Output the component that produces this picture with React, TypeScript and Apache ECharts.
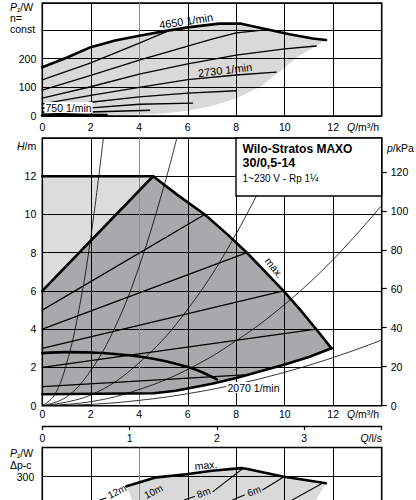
import React, { useEffect, useRef } from "react";
import * as echarts from "echarts";

const FONT = "'Liberation Sans', Arial, sans-serif";

// ---------- axes / ticks ----------
const qLabels = [0, 2, 4, 6, 8, 10, 12];
const qLsLabels = [0, 1, 2, 3];
const hLabels = [0, 2, 4, 6, 8, 10, 12];
const kPaLabels = [0, 20, 40, 60, 80, 100, 120];
const pTopLabels = [0, 100, 200];
const pBottomLabels = [300];
const qMax = 14; // m³/h
const qLsMax = qMax / 3.6; // l/s
const hMaxAxis = 14; // m
const kPaMaxAxis = hMaxAxis * 9.81; // kPa
const pTopMax = 394; // W
const pBottomMax = 400; // W

// ---------- top chart: P1 [W] vs Q [m³/h], n = const ----------
const p4650 = [[0, 170], [1, 203], [2, 240], [3, 263], [4, 280], [5, 295], [6, 309], [7.3, 322], [8.2, 322], [9.2, 303], [10.2, 285], [11.15, 270], [11.7, 265]];
const pSpeedA = [[0, 126], [2, 185], [4, 254], [5.1, 293]];
const pSpeedB = [[0, 90], [2, 142], [4, 195], [6, 244], [7, 268], [8, 290], [9.3, 301]];
const pSpeedC = [[0, 62], [2, 102], [4, 146], [6, 182], [8, 212], [10, 234], [11.3, 244]];
const p2730 = [[0, 42], [2, 72], [4, 100], [6, 127], [8, 143], [9.65, 153]];
const pSpeedE = [[0, 27], [2, 48], [4, 67], [6, 80], [8, 88]];
const pSpeedF = [[0, 13], [2, 28], [4, 41], [6.2, 45]];
const pSpeedG = [[0, 6], [2, 14], [4.43, 20]];
const p750 = [[0, 3], [2.65, 3]];
const pFieldLower = [[11.7, 265], [11.3, 244], [10.5, 205], [9.9, 162], [9.0, 102], [8.0, 62], [7.0, 35], [6.0, 18], [5.0, 9], [4.0, 5], [2.65, 2], [0, 0]];

// ---------- middle chart: H [m] vs Q [m³/h] ----------
const hTopFlat = [[0, 12], [4.57, 12]];
const hMaxCurve = [[4.57, 12], [5.6, 11], [6.7, 10], [7.6, 9], [8.44, 8], [9.2, 7], [9.95, 6], [10.65, 5], [11.3, 4], [11.93, 3]];
const h12m = [[0, 6], [4.57, 12]];
const hBottom = [[0, 0.6], [4.6, 0.65], [5.5, 0.78], [6, 0.9], [7, 1.15], [8, 1.45], [9, 1.8], [10, 2.15], [11, 2.55], [11.93, 3]];
const hMinCurve = [[0, 2.75], [1, 2.8], [2, 2.78], [3, 2.7], [4, 2.57], [5, 2.35], [6, 2.02], [6.6, 1.75], [7.2, 1.38]];
const h10m = [[0, 5], [6.7, 10]];
const h8m = [[0, 4], [8.44, 8]];
const h6m = [[0, 3], [9.95, 6]];
const h4m = [[0, 2], [11.3, 4]];
const h2m = [[0, 1], [8.5, 1.62]];
const sysA = [[0, 0], [0.5, 0.55], [1, 2.2], [1.5, 4.95], [2, 8.8], [2.52, 14]];
const sysB = [[0, 0], [1, 0.46], [2, 1.85], [3, 4.1], [4, 7.3], [5, 11.4], [5.55, 14]];
const sysC = [[0, 0], [2, 0.56], [4, 2.25], [6, 5.05], [8, 9.0], [10, 14]];
const sysD = [[0, 0], [2, 0.21], [4, 0.85], [6, 1.9], [8, 3.4], [10, 5.3], [12, 7.65], [13.95, 10.4]];
const sysE = [[0, 0], [2, 0.07], [4, 0.28], [6, 0.63], [8, 1.12], [10, 1.75], [12, 2.52], [14, 3.43]];

// ---------- bottom chart: P1 [W] vs Q, Δp-c ----------
const bMax = [[3.47, 266], [4.71, 297], [5.94, 308], [7.0, 320], [8.2, 329], [8.41, 327], [9.92, 300], [11.7, 277]];
const bFieldLower = [[11.7, 277], [11.15, 200], [3.8, 200]];
const b12m = [[2.38, 219], [2.62, 226]];
const b8mA = [[5.87, 220], [6.28, 231]];
const b8mB = [[7.04, 248], [8.27, 327]];
const b6mA = [[7.86, 220], [8.34, 236]];
const b6mB = [[9.1, 254], [9.99, 300]];
const b4m = [[10.33, 220], [11.5, 274]];

const qGridColors = ["#000", "#000", "#8c8c8c", "#000", "#000", "#000", "#000", "#000"];

const GL = 42.3;
const GW = 339.4;
const AX = 10.5; // axis label font size

function lineS(data: number[][], xi: number, yi: number, width: number, z = 4, smooth: number | boolean = false) {
  return {
    type: "line",
    data,
    xAxisIndex: xi,
    yAxisIndex: yi,
    showSymbol: false,
    symbol: "none",
    smooth,
    silent: true,
    z,
    lineStyle: { color: "#000", width, cap: "round", join: "round" },
  };
}

function fillS(pts: number[][], xi: number, yi: number, color: string) {
  return {
    type: "custom",
    xAxisIndex: xi,
    yAxisIndex: yi,
    z: 1,
    silent: true,
    data: [[0, 0]],
    renderItem: (_p: any, api: any) => ({
      type: "polygon",
      shape: { points: pts.map((p) => api.coord(p)) },
      style: { fill: color, stroke: "none" },
    }),
  };
}

const fmt = (list: number[]) => (v: number) => (list.some((l) => Math.abs(l - v) < 1e-6) ? String(v) : "");

function qAxis(gridIndex: number, showLabel: boolean, margin: number) {
  return {
    type: "value",
    gridIndex,
    min: 0,
    max: qMax,
    interval: 2,
    z: 3,
    axisLine: { show: false },
    axisTick: { show: false },
    axisLabel: { show: showLabel, margin, color: "#000", fontSize: AX, fontFamily: FONT, formatter: fmt(qLabels) },
    splitLine: { show: true, lineStyle: { color: qGridColors, width: 1 } },
  };
}

const italic = (size: number) => ({ i: { fontStyle: "italic", fontSize: size, fontFamily: FONT, fill: "#000" } });

function txt(text: string, x: number, y: number, o: any = {}) {
  const size = o.size || 10.5;
  return {
    type: "text",
    x,
    y,
    z: 12,
    rotation: o.rot || 0,
    silent: true,
    style: {
      text,
      fontFamily: FONT,
      fontSize: size,
      fontWeight: o.bold ? "bold" : "normal",
      fill: "#000",
      align: o.align || "left",
      verticalAlign: "middle",
      rich: italic(size),
      backgroundColor: o.bg,
      padding: o.bg ? [0, 1] : undefined,
    },
  };
}

const darkPoly = [...h12m, ...hMaxCurve.slice(1), ...hBottom.slice().reverse()];
const lightTri = [h12m[0], hTopFlat[0], hTopFlat[1]];
const topField = [...p4650, ...pFieldLower];
const bottomField = [...bMax, ...bFieldLower];

const yAxisBase = (gridIndex: number, max: number, interval: number, labels: number[], margin: number) => ({
  type: "value",
  gridIndex,
  min: 0,
  max,
  interval,
  z: 3,
  axisLine: { show: false },
  axisTick: { show: false },
  axisLabel: { margin, color: "#000", fontSize: AX, fontFamily: FONT, formatter: fmt(labels) },
  splitLine: { show: true, lineStyle: { color: "#000", width: 1 } },
});

const option: any = {
  animation: false,
  textStyle: { fontFamily: FONT },
  grid: [
    { left: GL, top: 3, width: GW, height: 113, show: true, borderColor: "#000", borderWidth: 1.6, z: 3 },
    { left: GL, top: 138, width: GW, height: 267.7, show: true, borderColor: "#000", borderWidth: 1.6, z: 3 },
    { left: GL, top: 425, width: GW, height: 1, show: false },
    { left: GL, top: 447.5, width: GW, height: 116, show: true, borderColor: "#000", borderWidth: 1.6, z: 3 },
  ],
  xAxis: [
    qAxis(0, true, 5),
    qAxis(1, true, 3),
    {
      type: "value",
      gridIndex: 2,
      min: 0,
      max: qLsMax,
      interval: 1,
      axisLine: { show: true, lineStyle: { color: "#000", width: 1.3 } },
      axisTick: { show: true, length: 4, lineStyle: { color: "#000", width: 1.2 } },
      axisLabel: { margin: 6, color: "#000", fontSize: AX, fontFamily: FONT, formatter: fmt(qLsLabels) },
      splitLine: { show: false },
    },
    qAxis(3, false, 4),
  ],
  yAxis: [
    yAxisBase(0, pTopMax, 100, pTopLabels, 6),
    yAxisBase(1, hMaxAxis, 2, hLabels, 6),
    {
      type: "value",
      gridIndex: 1,
      position: "right",
      min: 0,
      max: kPaMaxAxis,
      interval: 20,
      z: 3,
      axisLine: { show: false },
      axisTick: { show: true, length: 5, lineStyle: { color: "#000", width: 1.2 }, customValues: kPaLabels },
      axisLabel: { margin: 9, color: "#000", fontSize: AX, fontFamily: FONT, formatter: fmt(kPaLabels), customValues: kPaLabels },
      splitLine: { show: false },
    },
    { type: "value", gridIndex: 2, show: false, min: 0, max: 1 },
    yAxisBase(3, pBottomMax, 100, pBottomLabels, 8),
  ],
  series: [
    // top
    fillS(topField, 0, 0, "#d9d9d9"),
    lineS(pSpeedA, 0, 0, 1.3),
    lineS(pSpeedB, 0, 0, 1.3),
    lineS(pSpeedC, 0, 0, 1.3),
    lineS(p2730, 0, 0, 1.3),
    lineS(pSpeedE, 0, 0, 1.3),
    lineS(pSpeedF, 0, 0, 1.3),
    lineS(pSpeedG, 0, 0, 1.3),
    lineS(p750, 0, 0, 3, 5),
    lineS(p4650, 0, 0, 2.6, 5),
    // middle
    fillS(lightTri, 1, 1, "#dcdcdd"),
    fillS(darkPoly, 1, 1, "#a9a9ab"),
    lineS(sysA, 1, 1, 0.8, 4, 0.4),
    lineS(sysB, 1, 1, 0.8, 4, 0.4),
    lineS(sysC, 1, 1, 0.8, 4, 0.4),
    lineS(sysD, 1, 1, 0.8, 4, 0.4),
    lineS(sysE, 1, 1, 0.8, 4, 0.4),
    lineS(h10m, 1, 1, 1.3),
    lineS(h8m, 1, 1, 1.3),
    lineS(h6m, 1, 1, 1.3),
    lineS(h4m, 1, 1, 1.3),
    lineS(h2m, 1, 1, 1.3),
    lineS(hTopFlat, 1, 1, 2.6, 5),
    lineS(h12m, 1, 1, 2.6, 5),
    lineS(hMaxCurve, 1, 1, 2.6, 5),
    lineS(hBottom, 1, 1, 2.6, 5),
    lineS(hMinCurve, 1, 1, 2.6, 5, 0.3),
    // bottom
    fillS(bottomField, 3, 4, "#d9d9d9"),
    lineS(b12m, 3, 4, 1.1),
    lineS(b8mA, 3, 4, 1.1),
    lineS(b8mB, 3, 4, 1.1),
    lineS(b6mA, 3, 4, 1.1),
    lineS(b6mB, 3, 4, 1.1),
    lineS(b4m, 3, 4, 1.1),
    lineS(bMax, 3, 4, 2.6, 5),
  ],
  graphic: {
    elements: [
      // title box
      { type: "rect", z: 10, silent: true, shape: { x: 236, y: 138, width: 145.7, height: 58 }, style: { fill: "#fff", stroke: "#000", lineWidth: 1.4 } },
      txt("Wilo-Stratos MAXO", 242.5, 149.3, { size: 12, bold: true }),
      txt("30/0,5-14", 242.5, 163.3, { size: 12.5, bold: true }),
      txt("1~230 V - Rp 1¼", 242.5, 178, { size: 10 }),
      // top chart
      txt("{i|P₁}/W", 10, 6.5),
      txt("n=", 10, 17.5),
      txt("const", 10, 28.5),
      txt("{i|Q}/m³/h", 347, 126.5),
      txt("4650 1/min", 186, 21, { size: 11, rot: 0.15, align: "center" }),
      txt("2730 1/min", 225, 70, { size: 11, rot: 0.12, align: "center" }),
      txt("750 1/min", 44.5, 107.5, { size: 10.5, bg: "#fff" }),
      // middle chart
      txt("{i|H}/m", 17, 146),
      txt("{i|p}/kPa", 387, 147.5),
      txt("max.", 274, 268, { size: 10.5, rot: -0.9, align: "center" }),
      txt("2070 1/min", 253.5, 387.5, { size: 10.5, align: "center", bg: "#fff" }),
      txt("{i|Q}/m³/h", 347, 414),
      // l/s axis
      txt("{i|Q}/l/s", 382, 437.5, { align: "right" }),
      // bottom chart
      txt("{i|P₁}/W", 10, 453),
      txt("Δp-c", 10, 465),
      txt("max.", 206, 465, { size: 10.5, rot: 0.1, align: "center" }),
      txt("12m", 117, 491.5, { size: 10, rot: 0.45, align: "center" }),
      txt("10m", 153.5, 491.5, { size: 10, rot: 0.45, align: "center" }),
      txt("8m", 203.5, 492.5, { size: 10, rot: 0.35, align: "center" }),
      txt("6m", 254, 491, { size: 10, rot: 0.35, align: "center" }),
    ],
  },
};

export default function App() {
  const ref = useRef<HTMLDivElement>(null);
  useEffect(() => {
    document.body.style.margin = "0";
    const chart = echarts.init(ref.current as HTMLDivElement, null, { renderer: "svg" });
    chart.setOption(option);
    return () => chart.dispose();
  }, []);
  return (
    <div style={{ width: 416, height: 500, overflow: "hidden" }}>
      <div ref={ref} style={{ width: 416, height: 570 }} />
    </div>
  );
}
